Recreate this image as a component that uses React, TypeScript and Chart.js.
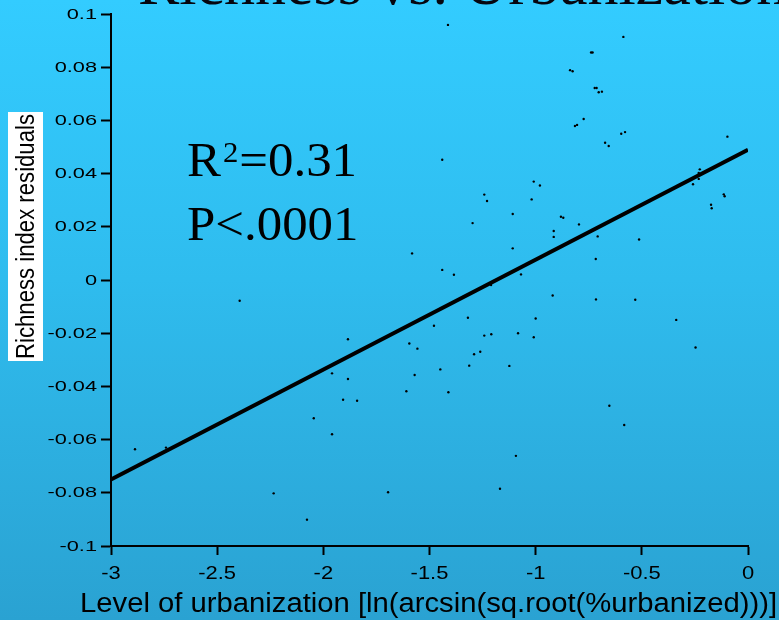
import React, { useEffect, useRef } from "react";
import { Chart, registerables } from "chart.js";

Chart.register(...registerables);

const titleText = "Richness vs. Urbanization";
const xTitle = "Level of urbanization [ln(arcsin(sq.root(%urbanized)))]";
const yTitle = "Richness index residuals";
const statLine1 = ["R", "2", "=0.31"];
const statLine2 = "P<.0001";

const xTicks = [-3, -2.5, -2, -1.5, -1, -0.5, 0];
const xTickLabels = ["-3", "-2.5", "-2", "-1.5", "-1", "-0.5", "0"];
const yTicks = [-0.1, -0.08, -0.06, -0.04, -0.02, 0, 0.02, 0.04, 0.06, 0.08, 0.1];
const yTickLabels = ["-0.1", "-0.08", "-0.06", "-0.04", "-0.02", "0", "0.02", "0.04", "0.06", "0.08", "0.1"];

const xValues = [
  -1.413, -0.838, -0.826, -0.815, -0.805, -0.587, -0.739, -0.732, -0.722, -0.713,
  -0.703, -0.688, -0.774, -0.597, -0.579, -0.673, -0.656, -0.097, -0.227, -0.232,
  -0.232, -0.259, -0.114, -0.110, -0.174, -0.171, -1.440, -1.009, -0.980, -1.242,
  -1.229, -1.019, -1.108, -0.881, -0.870, -0.796, -1.297, -0.915, -0.915, -0.708,
  -0.513, -1.582, -1.108, -0.717, -1.440, -1.385, -1.069, -1.210, -0.920, -0.716,
  -0.531, -2.394, -1.319, -1.000, -0.338, -1.479, -1.884, -1.242, -1.209, -1.083,
  -1.009, -1.595, -1.557, -1.290, -1.261, -0.247, -1.313, -1.124, -1.449, -1.959,
  -1.884, -1.570, -1.609, -1.411, -1.907, -1.841, -0.653, -2.045, -0.583, -1.959,
  -2.887, -2.741, -1.093, -1.168, -1.695, -2.234, -2.077,
];
const yValues = [
  0.0959, 0.0789, 0.0785, 0.0579, 0.0583, 0.0914, 0.0855, 0.0855, 0.0722, 0.0722,
  0.0706, 0.0708, 0.0605, 0.0550, 0.0556, 0.0516, 0.0504, 0.0539, 0.0416, 0.0402,
  0.0380, 0.0360, 0.0322, 0.0315, 0.0283, 0.0270, 0.0452, 0.0370, 0.0355, 0.0321,
  0.0297, 0.0303, 0.0248, 0.0238, 0.0234, 0.0209, 0.0214, 0.0184, 0.0162, 0.0164,
  0.0152, 0.0100, 0.0119, 0.0079, 0.0038, 0.0020, 0.0021, -0.0019, -0.0058, -0.0073,
  -0.0074, -0.0078, -0.0142, -0.0145, -0.0150, -0.0172, -0.0223, -0.0209, -0.0204, -0.0200,
  -0.0215, -0.0239, -0.0258, -0.0279, -0.0270, -0.0254, -0.0322, -0.0323, -0.0336, -0.0351,
  -0.0372, -0.0357, -0.0418, -0.0422, -0.0450, -0.0454, -0.0473, -0.0520, -0.0545, -0.0580,
  -0.0636, -0.0630, -0.0661, -0.0785, -0.0798, -0.0802, -0.0901,
];

const fitX = [-3, 0];
const fitY = [-0.075, 0.049];

function drawText(
  ctx: CanvasRenderingContext2D,
  text: string,
  x: number,
  y: number,
  font: string,
  align: "left" | "right" | "center",
  sx: number,
  baseline: CanvasTextBaseline = "alphabetic",
  color = "#000"
) {
  ctx.save();
  ctx.font = font;
  ctx.fillStyle = color;
  ctx.textBaseline = baseline;
  ctx.textAlign = "left";
  const w = ctx.measureText(text).width * sx;
  const left = align === "left" ? x : align === "right" ? x - w : x - w / 2;
  ctx.translate(left, y);
  ctx.scale(sx, 1);
  ctx.fillText(text, 0, 0);
  ctx.restore();
  return w;
}

function fitSx(ctx: CanvasRenderingContext2D, text: string, font: string, target: number) {
  ctx.save();
  ctx.font = font;
  const w = ctx.measureText(text).width;
  ctx.restore();
  return target / w;
}

const textPlugin = {
  id: "textPlugin",
  afterDraw(chart: any) {
    const ctx: CanvasRenderingContext2D = chart.ctx;
    const xs = chart.scales.x;
    const ys = chart.scales.y;

    // y tick labels
    yTicks.forEach((v, i) => {
      const py = ys.getPixelForValue(v);
      drawText(ctx, yTickLabels[i], xs.left - 14, py + 0.5, '15px "Liberation Sans", Arial', "right", 1.45, "middle");
    });
    // x tick labels
    xTicks.forEach((v, i) => {
      const px = xs.getPixelForValue(v);
      drawText(ctx, xTickLabels[i], px, ys.bottom + 33, '18px "Liberation Sans", Arial', "center", 1.22);
    });

    // x title
    const xf = '27px "Liberation Sans", Arial';
    drawText(ctx, xTitle, 80, 612, xf, "left", fitSx(ctx, xTitle, xf, 697));

    // y title with white box
    ctx.save();
    ctx.fillStyle = "#ffffff";
    ctx.fillRect(8, 112, 35, 249);
    ctx.translate(34, 236.5);
    ctx.rotate(-Math.PI / 2);
    const yf = '25px "Liberation Sans", Arial';
    drawText(ctx, yTitle, 0, 0, yf, "center", fitSx(ctx, yTitle, yf, 245));
    ctx.restore();

    // title (cut off at top)
    drawText(ctx, titleText, 138, 4, '62px "Liberation Serif", "Times New Roman", serif', "left", 1.0, "alphabetic", "#06060f");

    // statistics
    const sf = '48px "Liberation Serif", "Times New Roman", serif';
    const supf = '29px "Liberation Serif", "Times New Roman", serif';
    let cx = 187;
    cx += drawText(ctx, statLine1[0], cx, 176, sf, "left", 1.06);
    cx += 2;
    cx += drawText(ctx, statLine1[1], cx, 162, supf, "left", 1.06);
    cx += 1;
    drawText(ctx, statLine1[2], cx, 176, sf, "left", 1.06);
    drawText(ctx, statLine2, 187, 240, sf, "left", 1.06);
  },
};

export default function App() {
  const ref = useRef<HTMLCanvasElement | null>(null);

  useEffect(() => {
    if (!ref.current) return;
    const points = xValues.map((x, i) => ({ x, y: yValues[i] }));
    const fit = fitX.map((x, i) => ({ x, y: fitY[i] }));
    const chart = new Chart(ref.current, {
      type: "scatter",
      data: {
        datasets: [
          {
            data: points,
            pointRadius: 1.2,
            pointHoverRadius: 1.2,
            backgroundColor: "#000",
            borderWidth: 0,
          },
          {
            data: fit,
            showLine: true,
            borderColor: "#000",
            borderWidth: 4,
            pointRadius: 0,
            pointHoverRadius: 0,
            fill: false,
          } as any,
        ],
      },
      options: {
        animation: false,
        responsive: false,
        devicePixelRatio: 1,
        layout: { padding: { top: 14, right: 31, left: 0, bottom: 0 } },
        plugins: {
          legend: { display: false },
          tooltip: { enabled: false },
          title: { display: false },
        },
        scales: {
          x: {
            type: "linear",
            min: -3,
            max: 0,
            afterBuildTicks: (s: any) => {
              s.ticks = xTicks.map((v) => ({ value: v }));
            },
            afterFit: (s: any) => {
              s.height = 74;
            },
            ticks: { display: false },
            grid: {
              drawOnChartArea: false,
              drawTicks: true,
              tickLength: 9,
              color: "#000",
              tickWidth: 2,
            },
            border: { display: true, color: "#000", width: 2 },
          },
          y: {
            type: "linear",
            min: -0.1,
            max: 0.1,
            afterBuildTicks: (s: any) => {
              s.ticks = yTicks.map((v) => ({ value: v }));
            },
            afterFit: (s: any) => {
              s.width = 111;
            },
            ticks: { display: false },
            grid: {
              drawOnChartArea: false,
              drawTicks: true,
              tickLength: 10,
              color: "#000",
              tickWidth: 2,
            },
            border: { display: true, color: "#000", width: 2 },
          },
        },
      },
      plugins: [textPlugin],
    });
    return () => chart.destroy();
  }, []);

  return (
    <div
      style={{
        position: "absolute",
        left: 0,
        top: 0,
        width: 779,
        height: 620,
        overflow: "hidden",
        background: "linear-gradient(to bottom, rgb(51,204,255) 0%, rgb(47,188,238) 45%, rgb(42,162,210) 100%)",
      }}
    >
      <canvas ref={ref} width={779} height={620} style={{ display: "block", width: 779, height: 620 }} />
    </div>
  );
}
